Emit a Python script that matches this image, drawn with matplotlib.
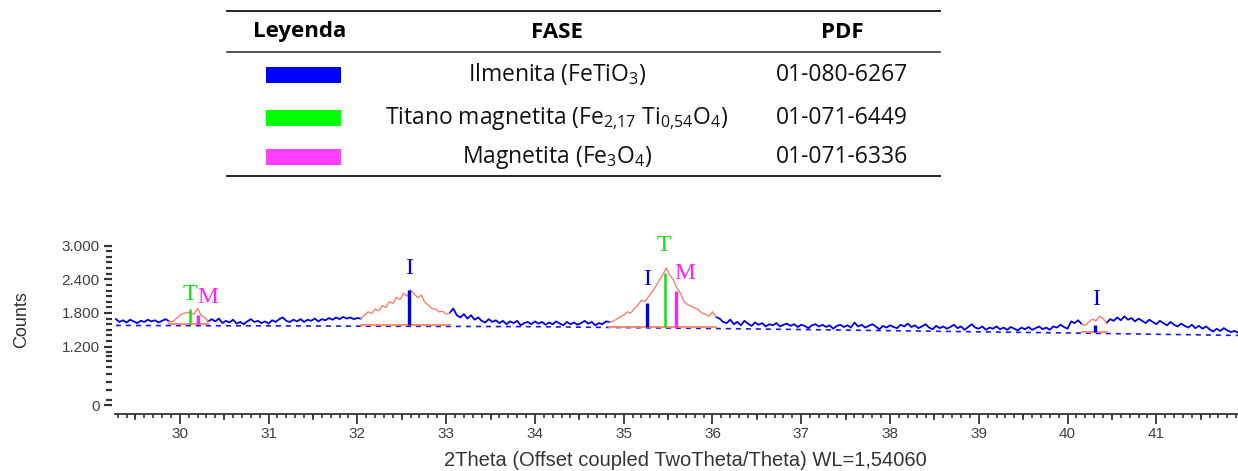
import matplotlib
matplotlib.use("Agg")
import matplotlib.pyplot as plt
import numpy as np
from matplotlib.lines import Line2D
from matplotlib.patches import Rectangle
from matplotlib.ticker import FixedLocator, MultipleLocator

# ---- diffractogram (counts every 0.04 deg) ----
two_theta_start, two_theta_end = 29.28, 41.92
counts = [
    # 29.28 - 29.88
    1690, 1640, 1670, 1630, 1680, 1650, 1620, 1660, 1640, 1680, 1650, 1670, 1630, 1660, 1690, 1650,
    # 29.92 - 30.32 (peak)
    1640, 1700, 1760, 1790, 1810, 1800, 1780, 1880, 1760, 1720, 1650,
    # 30.36 - 32.04
    1690, 1650, 1700, 1620, 1660, 1630, 1680, 1610, 1640, 1600,
    1650, 1690, 1640, 1660, 1620, 1650, 1610, 1670, 1640, 1690,
    1720, 1660, 1640, 1680, 1650, 1690, 1640, 1680, 1660, 1700,
    1650, 1690, 1670, 1710, 1680, 1720, 1690, 1730, 1700, 1720,
    1690, 1710, 1700,
    # 32.08 - 33.04 (peak)
    1760, 1820, 1790, 1870, 1840, 1930, 1900, 2000, 1970, 2080,
    2040, 2150, 2100, 2210, 2140, 2070, 2120, 1990, 1940, 1880,
    1870, 1820, 1830, 1780, 1800,
    # 33.08 - 34.84
    1880, 1760, 1720, 1780, 1700, 1760, 1680, 1720, 1660, 1630,
    1690, 1640, 1670, 1620, 1660, 1600, 1650, 1620, 1660, 1580,
    1620, 1640, 1600, 1650, 1610, 1640, 1590, 1630, 1600, 1650,
    1610, 1580, 1640, 1600, 1630, 1590, 1620, 1660, 1610, 1640,
    1580, 1620, 1600, 1650, 1640,
    # 34.88 - 36.04 (peak)
    1650, 1690, 1730, 1760, 1820, 1800, 1880, 1940, 2030, 2000,
    2090, 2180, 2270, 2380, 2480, 2600, 2470, 2390, 2240, 2150,
    2000, 1950, 1920, 1890, 1860, 1800, 1780, 1740, 1820, 1730,
    # 36.08 - 40.16
    1700, 1640, 1620, 1680, 1600, 1640, 1580, 1660, 1610, 1570,
    1630, 1590, 1620, 1560, 1600, 1580, 1620, 1560, 1590, 1610,
    1570, 1600, 1550, 1590, 1570, 1530, 1580, 1600, 1560, 1590,
    1550, 1580, 1520, 1570, 1590, 1550, 1580, 1540, 1630, 1560,
    1590, 1540, 1570, 1600, 1560, 1510, 1570, 1540, 1580, 1550,
    1530, 1590, 1560, 1610, 1550, 1580, 1530, 1560, 1600, 1540,
    1510, 1570, 1530, 1560, 1520, 1550, 1590, 1530, 1560, 1500,
    1550, 1600, 1540, 1520, 1560, 1500, 1540, 1520, 1560, 1510,
    1540, 1500, 1550, 1520, 1490, 1540, 1510, 1550, 1500, 1530,
    1560, 1510, 1540, 1500, 1560, 1540, 1590, 1550, 1520, 1650,
    1620, 1670, 1600,
    # 40.20 - 40.44 (peak)
    1580, 1640, 1690, 1660, 1740, 1700, 1620,
    # 40.48 - 41.92
    1690, 1660, 1720, 1670, 1740, 1680, 1710, 1650, 1700, 1660,
    1620, 1680, 1640, 1600, 1660, 1620, 1580, 1640, 1590, 1560,
    1610, 1570, 1540, 1590, 1530, 1570, 1520, 1560, 1510, 1470,
    1520, 1480, 1530, 1490, 1460, 1480, 1450,
]

# fitted peak windows (drawn in red) and their baseline level
peak_windows = [(29.88, 30.32), (32.04, 33.04), (34.84, 36.04), (40.16, 40.44)]
peak_base = [1600, 1586, 1545, 1462]

# background (dashed blue)
background_x = [29.28, 34.0, 36.5, 40.0, 41.92]
background_y = [1578, 1556, 1515, 1444, 1400]

# phase sticks
stick_phase = ["T", "M", "I", "I", "T", "M", "I"]
stick_pos = [30.11, 30.21, 32.58, 35.26, 35.47, 35.59, 40.31]
stick_top = [1871, 1764, 2209, 1978, 2512, 2191, 1586]
stick_base = [1604, 1604, 1586, 1551, 1551, 1551, 1462]

# legend table
table_header = ["Leyenda", "FASE", "PDF"]
phase_names = [
    r"Ilmenita (FeTiO$_{\mathregular{3}}$)",
    r"Titano magnetita (Fe$_{\mathregular{2{,}17}}$ Ti$_{\mathregular{0{,}54}}$O$_{\mathregular{4}}$)",
    r"Magnetita (Fe$_{\mathregular{3}}$O$_{\mathregular{4}}$)",
]
pdf_codes = ["01-080-6267", "01-071-6449", "01-071-6336"]
phase_colors = ["#0000FF", "#00FF00", "#FF40FF"]

# colours for the peak letters / sticks
phase_color = {"I": "#0000E6", "T": "#10E010", "M": "#FF22FF"}
stick_width = {"I": 2.4, "T": 1.8, "M": 2.4}

W, H = 1238, 471
fig = plt.figure(figsize=(W / 100, H / 100), dpi=100)
plt.rcParams["mathtext.fontset"] = "custom"
plt.rcParams["mathtext.rm"] = "Open Sans"

def fx(x):
    return x / W

def fy(y):
    return 1 - y / H

# ---- y scale: linear above 1200, squeezed below ----
SQ = 1041 / 1200

def fwd(v):
    v = np.asarray(v, dtype=float)
    return np.where(v >= 1200, v, 1200 - (1200 - v) * SQ)

def inv(u):
    u = np.asarray(u, dtype=float)
    return np.where(u >= 1200, u, 1200 - (1200 - u) / SQ)

ax = fig.add_axes([fx(115), fy(414), fx(1238) - fx(115), fy(240) - fy(414)])
ax.set_yscale("function", functions=(fwd, inv))

x = np.linspace(two_theta_start, two_theta_end, len(counts))
y = np.array(counts, dtype=float)

# background dashed line
ax.plot(background_x, background_y, color="#1a1ae0", lw=1.2, ls=(0, (3, 3)), zorder=1)

# blue trace outside the peak windows
blue = y.copy()
for lo, hi in peak_windows:
    blue[(x > lo + 1e-6) & (x < hi - 1e-6)] = np.nan
ax.plot(x, blue, color="#0000EE", lw=1.3, zorder=3)

# red trace + baseline inside the windows
for (lo, hi), base in zip(peak_windows, peak_base):
    m = (x >= lo - 1e-6) & (x <= hi + 1e-6)
    ax.plot(x[m], y[m], color="#F4826E", lw=1.0, zorder=3)
    ax.plot([lo, hi], [base, base], color="#F4826E", lw=1.3, zorder=2)

# sticks and letters
label_offset = {30.11: (0, 3), 30.21: (7, 5), 32.58: (0, 8), 35.26: (0, 9),
                35.47: (-1, 12), 35.59: (6, 5), 40.31: (1, 11)}
for ph, p, top, base in zip(stick_phase, stick_pos, stick_top, stick_base):
    c = phase_color[ph]
    ax.plot([p, p], [base, top], color=c, lw=stick_width[ph], solid_capstyle="butt", zorder=4)
    dx, dy = label_offset[p]
    ax.annotate(ph, xy=(p, top), xytext=(dx, dy), textcoords="offset points",
                ha="center", va="bottom", color=c, fontsize=17,
                family="Liberation Serif", zorder=5)

ax.set_xlim(29.27, 41.92)
ax.set_ylim(-183, 3100)

ax.xaxis.set_major_locator(MultipleLocator(1))
ax.xaxis.set_minor_locator(MultipleLocator(0.1))
ax.yaxis.set_major_locator(FixedLocator([0, 1200, 1800, 2400, 3000]))
ax.set_yticklabels(["0", "1.200", "1.800", "2.400", "3.000"])
minor_y = [100, 300, 480, 640, 780, 900, 1000, 1100] + [v for v in range(1300, 3100, 100) if v % 600]
ax.yaxis.set_minor_locator(FixedLocator(minor_y))

# half-degree ticks are a little longer
ax.vlines(np.arange(29.5, 42, 1.0), -0.032, 0, transform=ax.get_xaxis_transform(),
          color="#333333", lw=1.2, clip_on=False)

for s in ["top", "right", "left"]:
    ax.spines[s].set_visible(False)
ax.spines["left"].set_position(("outward", 2))
ax.spines["bottom"].set_color("#333333")
ax.spines["bottom"].set_linewidth(1.3)

ax.tick_params(axis="x", which="major", length=7, width=1.3, color="#333333",
               labelsize=11, labelcolor="#404040", pad=2)
ax.tick_params(axis="x", which="minor", length=3, width=1.2, color="#333333")
ax.tick_params(axis="y", which="major", length=6, width=1.6, color="#333333",
               labelsize=11, labelcolor="#404040", pad=3)
ax.tick_params(axis="y", which="minor", length=4, width=1.6, color="#333333")
for lab in ax.get_xticklabels() + ax.get_yticklabels():
    lab.set_family("Liberation Sans")

fig.text(fx(685), fy(460), "2Theta (Offset coupled TwoTheta/Theta) WL=1,54060",
         ha="center", va="center", fontsize=14.5, color="#333333", family="Liberation Sans")
fig.text(fx(22), fy(320), "Counts", rotation=90, ha="center", va="center",
         fontsize=13, color="#333333", family="Liberation Sans")

# ---- legend table ----
for yy, lw in [(11, 1.4), (52, 1.1), (176, 1.4)]:
    fig.add_artist(Line2D([fx(227), fx(940)], [fy(yy), fy(yy)], color="#222222", lw=lw))

col_x = [300, 557, 842]
for cx, txt in zip(col_x, table_header):
    fig.text(fx(cx), fy(32), txt, ha="center", va="center", fontsize=16,
             fontweight="bold", family="Open Sans", color="black")

row_y = [75, 118, 157]
for ry, name, code, col in zip(row_y, phase_names, pdf_codes, phase_colors):
    fig.add_artist(Rectangle((fx(266), fy(ry + 8)), fx(341) - fx(266), fy(ry - 8) - fy(ry + 8),
                             transform=fig.transFigure, color=col, lw=0))
    fig.text(fx(557), fy(ry + 6), name, ha="center", va="baseline", fontsize=16.5,
             family="Open Sans", color="#111111")
    fig.text(fx(842), fy(ry + 6), code, ha="center", va="baseline", fontsize=16.5,
             family="Open Sans", color="#111111")

fig.savefig("out.png", dpi=100)
